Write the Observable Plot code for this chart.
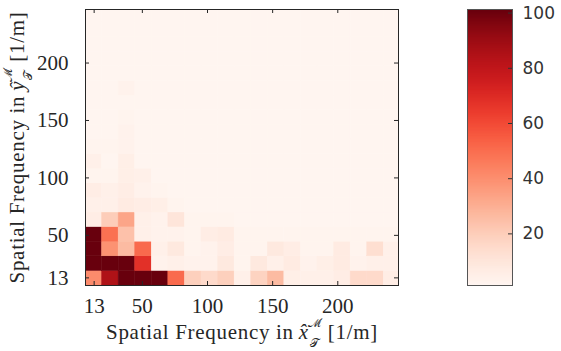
<!DOCTYPE html>
<html><head><meta charset="utf-8">
<script src="https://cdn.jsdelivr.net/npm/d3@7"></script>
<script src="https://cdn.jsdelivr.net/npm/@observablehq/plot@0.6"></script>
<style>
body{margin:0;background:#fff;}
#wrap{position:relative;width:561px;height:351px;}
#wrap svg{position:absolute;top:0;}
</style></head><body><div id="wrap"></div>
<script>
// spatial frequency bin spacing [1/m]; bins centred on k*freqStep
const freqStep = 12.72;
const axisMax = 246.6;
const axisTicks = [13, 50, 100, 150, 200];
const colorTicks = [20, 40, 60, 80, 100];
const colorLimits = [1.3, 101.3];
const xLabelText = "Spatial Frequency in ";
const yLabelText = "Spatial Frequency in ";

// rows from bottom (y = 1*step) to top, columns from left (x = 1*step)
const row01 = [41, 85, 101, 101, 101, 51, 19, 15, 19, 4, 18, 26, 5, 4, 4, 6, 15, 15, 6];
const row02 = [101, 101, 101, 68, 3, 4, 3, 3, 8, 2, 8, 4, 7, 3, 5, 7, 3, 4, 4];
const row03 = [101, 39, 26, 51, 4, 8, 2, 3, 6, 2, 2, 8, 6, 2, 2, 7, 2, 13, 4];
const row04 = [101, 49, 24, 4, 3, 3, 2, 6, 7, 2, 2, 2, 2, 2, 2, 2, 2, 2, 2];
const row05 = [6, 20, 33, 4, 3, 10, 2, 2, 2, 1.5, 1.5, 1.5, 1.5, 1.5, 1.5, 1.5, 1.5, 1.5, 1.5];
const row06 = [4, 4, 7, 6, 5, 2, 1.5, 1.5, 1.5, 1.5, 1.5, 1.5, 1.5, 1.5, 1.5, 1.5, 1.5, 1.5, 1.5];
const row07 = [6, 4, 6, 3, 2, 1.5, 1.5, 1.5, 1.5, 1.5, 1.5, 1.5, 1.5, 1.5, 1.5, 1.5, 1.5, 1.5, 1.5];
const row08 = [2, 2, 5, 4, 1.5, 1.5, 1.5, 1.5, 1.5, 1.5, 1.5, 1.5, 1.5, 1.5, 1.5, 1.5, 1.5, 1.5, 1.5];
const row09 = [4, 1.5, 5, 1.5, 1.5, 1.5, 1.5, 1.5, 1.5, 1.5, 1.5, 1.5, 1.5, 1.5, 1.5, 1.5, 1.5, 1.5, 1.5];
const row10 = [2, 2, 3, 1.5, 1.5, 1.5, 1.5, 1.5, 1.5, 1.5, 1.5, 1.5, 1.5, 1.5, 1.5, 1.5, 1.5, 1.5, 1.5];
const row11 = [1.5, 1.5, 3, 1.5, 1.5, 1.5, 1.5, 1.5, 1.5, 1.5, 1.5, 1.5, 1.5, 1.5, 1.5, 1.5, 1.5, 1.5, 1.5];
const row12 = [1.5, 1.5, 2, 1.5, 1.5, 1.5, 1.5, 1.5, 1.5, 1.5, 1.5, 1.5, 1.5, 1.5, 1.5, 1.5, 1.5, 1.5, 1.5];
const row13 = [1.5, 1.5, 1.5, 1.5, 1.5, 1.5, 1.5, 1.5, 1.5, 1.5, 1.5, 1.5, 1.5, 1.5, 1.5, 1.5, 1.5, 1.5, 1.5];
const row14 = [1.5, 1.5, 3, 1.5, 1.5, 1.5, 1.5, 1.5, 1.5, 1.5, 1.5, 1.5, 1.5, 1.5, 1.5, 1.5, 1.5, 1.5, 1.5];
const row15 = [1.5, 1.5, 1.5, 1.5, 1.5, 1.5, 1.5, 1.5, 1.5, 1.5, 1.5, 1.5, 1.5, 1.5, 1.5, 1.5, 1.5, 1.5, 1.5];
const row16 = [1.5, 1.5, 1.5, 1.5, 1.5, 1.5, 1.5, 1.5, 1.5, 1.5, 1.5, 1.5, 1.5, 1.5, 1.5, 1.5, 1.5, 1.5, 1.5];
const row17 = [1.5, 1.5, 1.5, 1.5, 1.5, 1.5, 1.5, 1.5, 1.5, 1.5, 1.5, 1.5, 1.5, 1.5, 1.5, 1.5, 1.5, 1.5, 1.5];
const row18 = [1.5, 1.5, 1.5, 1.5, 1.5, 1.5, 1.5, 1.5, 1.5, 1.5, 1.5, 1.5, 1.5, 1.5, 1.5, 1.5, 1.5, 1.5, 1.5];
const row19 = [1.5, 1.5, 1.5, 1.5, 1.5, 1.5, 1.5, 1.5, 1.5, 1.5, 1.5, 1.5, 1.5, 1.5, 1.5, 1.5, 1.5, 1.5, 1.5];
const rows = [row01,row02,row03,row04,row05,row06,row07,row08,row09,row10,row11,row12,row13,row14,row15,row16,row17,row18,row19];

const cells = [];
rows.forEach((row, r) => row.forEach((v, c) => cells.push({x: (c + 1) * freqStep, y: (r + 1) * freqStep, v})));

const ink = "#262626";
const W = 561, H = 351, mL = 85, mR = 163, mT = 9, mB = 66;
const plotW = W - mL - mR, plotH = H - mT - mB, tickLen = 4;

const main = Plot.plot({
  width: W, height: H, marginLeft: mL, marginRight: mR, marginTop: mT, marginBottom: mB,
  x: {domain: [freqStep / 2, axisMax]},
  y: {domain: [freqStep / 2, axisMax]},
  color: {type: "linear", scheme: "reds", domain: colorLimits, clamp: true},
  style: {fontFamily: "'Liberation Serif', serif", fontSize: "21px", color: ink, background: "transparent"},
  marks: [
    Plot.rect(cells, {x1: d => d.x - freqStep / 2, x2: d => d.x + freqStep / 2, y1: d => d.y - freqStep / 2, y2: d => d.y + freqStep / 2, fill: "v", stroke: "v", strokeWidth: 0.5, clip: true}),
    Plot.tickX(axisTicks, {x: d => d, insetTop: plotH - tickLen, stroke: ink}),
    Plot.tickX(axisTicks, {x: d => d, insetBottom: plotH - tickLen, stroke: ink}),
    Plot.tickY(axisTicks, {y: d => d, insetRight: plotW - tickLen, stroke: ink}),
    Plot.tickY(axisTicks, {y: d => d, insetLeft: plotW - tickLen, stroke: ink}),
    Plot.frame({stroke: ink}),
    Plot.axisX(axisTicks, {tickSize: 0, tickPadding: 13, label: xLabelText, labelAnchor: "center", labelOffset: 53}),
    Plot.axisY(axisTicks, {tickSize: 0, tickPadding: 17, label: yLabelText, labelAnchor: "center", labelOffset: 76})
  ]
});

function mathLabel(textEl, before, base) {
  if (!textEl) return;
  const t = d3.select(textEl);
  t.text(null);
  t.attr("letter-spacing", "0.7px");
  t.append("tspan").text(before);
  t.append("tspan").attr("font-style", "italic").attr("dx", -1).text(base);
  t.append("tspan").attr("font-size", 12).attr("dy", 8).attr("dx", 1).attr("letter-spacing", 0).text("𝒯");
  t.append("tspan").attr("font-size", 12).attr("dx", -11).attr("dy", -20).attr("letter-spacing", 0).text("ℳ");
  t.append("tspan").attr("dy", 12).attr("dx", 7).text("[1/m]");
}
mathLabel(main.querySelector('g[aria-label="x-axis label"] text'), xLabelText, "x\u0302");
mathLabel(main.querySelector('g[aria-label="y-axis label"] text'), yLabelText, "y\u0302");

// colour-bar gradient: each band runs from its start to the top, drawn bottom-up, so no seams
const nSteps = 300;
const gradientSteps = d3.range(nSteps).map(i => {
  const a = colorLimits[0] + (colorLimits[1] - colorLimits[0]) * i / nSteps;
  return {y1: a, y2: colorLimits[1], v: a + (colorLimits[1] - colorLimits[0]) / (2 * nSteps)};
});

const bar = Plot.plot({
  width: 94, height: H, marginLeft: 0, marginRight: 49, marginTop: mT, marginBottom: mB,
  x: {domain: [0, 1], axis: null},
  y: {domain: colorLimits},
  color: {type: "linear", scheme: "reds", domain: colorLimits},
  style: {fontFamily: "'DejaVu Sans', sans-serif", fontSize: "17px", color: "#333", background: "transparent"},
  marks: [
    Plot.rect(gradientSteps, {x1: 0, x2: 1, y1: "y1", y2: "y2", fill: "v"}),
    Plot.tickY(colorTicks, {y: d => d, insetLeft: 45 - tickLen, stroke: "#333"}),
    Plot.frame({stroke: "#555"}),
    Plot.axisY(colorTicks, {anchor: "right", tickSize: 0, tickPadding: 10, label: null})
  ]
});

const wrap = document.getElementById("wrap");
main.style.left = "0px";
bar.style.left = "467px";
wrap.appendChild(main);
wrap.appendChild(bar);
</script></body></html>
